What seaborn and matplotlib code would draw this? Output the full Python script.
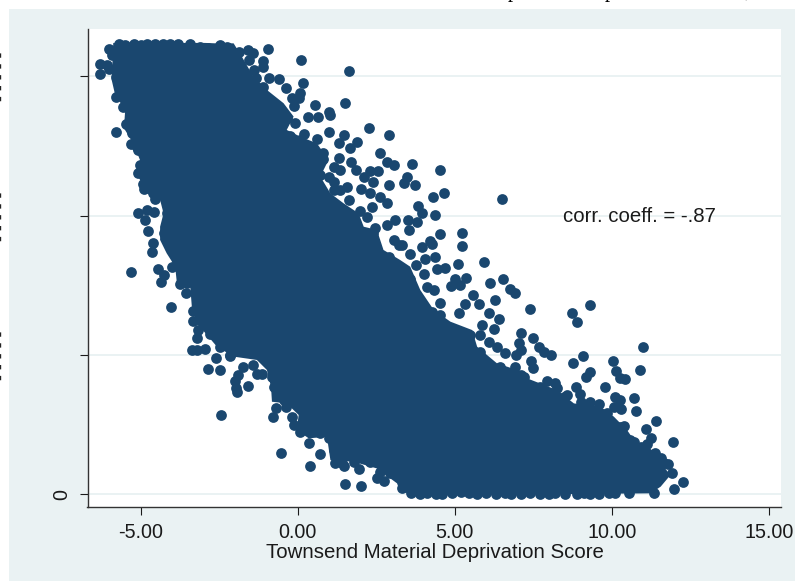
import matplotlib
matplotlib.use("Agg")
import matplotlib.pyplot as plt
import pandas as pd
import seaborn as sns
from matplotlib.patches import Rectangle

# outline of the solid mass where the single points can't be told apart
core_x = [-5.87, -2.95, -2.6, -2.04, -1.78, -1.41, -0.98, -0.45, -0.13, -0.35, 0.08, 0.61, 0.98, 0.72, 1.04, 1.46, 1.94,
          2.10, 2.52, 2.73, 3.26, 3.58, 3.9, 4.33, 4.86, 5.55, 5.71, 6.34, 6.98, 7.30, 8.25, 8.79, 9.64, 10.06, 10.48,
          10.70, 11.23, 11.65, 11.86, 11.55, 11.23,
          3.9, 3.26, 3.16, 2.52, 1.78, 1.04, 0.93, 0.35, -0.03, 0.03, -0.35, -0.82, -0.85, -0.98, -1.30, -2.04, -2.57,
          -2.84, -3.21, -3.37, -3.42, -3.85, -3.90, -4.17, -4.38, -4.38, -4.27, -4.38, -4.80, -5.10, -5.02, -5.23,
          -5.53, -5.49, -5.81, -5.92]
core_y = [32.4, 32.4, 32.37, 32.37, 31.42, 29.98, 29.02, 28.07, 27.11, 26.15, 25.67, 25.19, 24.0, 22.8, 21.6, 20.88, 20.16,
          19.2, 18.97, 17.53, 16.81, 16.33, 14.66, 13.22, 12.38, 11.78, 10.58, 9.39, 8.91, 8.31, 7.47, 6.51, 6.27, 5.56, 4.6,
          3.88, 3.16, 1.96, 1.36, 0.53, 0.05,
          -0.1, 0.17, 0.77, 1.84, 2.32, 2.44, 4.12, 4.0, 4.6, 5.68, 6.51, 6.63, 7.71, 8.91, 9.63, 9.87, 10.58,
          11.3, 12.26, 13.46, 14.89, 15.25, 16.33, 17.29, 18.25, 19.2, 20.16, 21.12, 21.6, 22.92, 23.99, 25.19,
          26.27, 27.59, 28.66, 29.74]

# top row and upper left corner
top_x = [-5.69, -5.5, -5.22, -5.0, -4.8, -4.55, -4.3, -4.05, -3.8, -3.44, -3.10, -2.85, -2.47, -2.26, -5.9, -6.02,
         -6.29, -6.08, -6.29, -6.02, -5.78, -5.78, -5.57, -5.31, -5.46, -5.78, -5.28, -5.30, -5.07, -5.02, -5.07, -4.91, -4.88]
top_y = [32.3, 32.28, 32.3, 32.28, 32.3, 32.3, 32.3, 32.3, 32.3, 32.3, 32.14, 32.05, 32.26, 32.14, 31.5, 31.94,
         30.9, 30.8, 30.17, 30.5, 29.93, 28.54, 27.83, 27.1, 26.58, 25.98, 25.9, 25.12, 24.7, 23.63, 23.04, 22.3, 21.9]

# left and lower side of the cloud
left_x = [-4.53, -5.09, -4.80, -4.57, -4.86, -4.78, -4.62, -4.63, -5.31, -4.45, -4.27, -4.35, -4.01, -3.74,
          -4.04, -3.55, -3.32, -3.34, -3.16, -3.21, -3.37, -3.21, -2.95, -2.79, -2.60, -2.85, -2.47, -2.17, -1.89,
          -1.99, -1.96, -1.94, -1.59, -1.28, -1.14, -2.44, -0.80, -0.68, -0.37, -0.18, 0.08, 0.35, -0.54, 0.72, 0.38,
          1.19, 1.46, 1.51, 2.01, 1.94, 2.52, 2.73, 3.32]
left_y = [21.19, 20.16, 20.4, 20.28, 19.68, 18.92, 18.0, 17.36, 15.97, 16.14, 15.73, 15.2, 16.33, 15.09,
          13.46, 14.42, 13.17, 12.45, 11.78, 11.23, 10.34, 10.34, 10.44, 11.47, 9.79, 9.0, 8.88, 9.91, 8.55,
          8.14, 7.59, 7.3, 7.78, 8.62, 8.62, 5.68, 5.56, 6.15, 6.27, 5.51, 4.48, 3.64, 2.97, 2.87, 2.01,
          2.25, 2.01, 0.72, 0.6, 1.77, 1.13, 0.96, 0.41]

# bottom row against zero
bottom_x = [3.6, 3.9, 4.1, 4.4, 4.6, 4.9, 5.2, 5.45, 5.7, 6.0, 6.3, 6.6, 6.8, 7.1, 7.4, 7.7, 8.0, 8.2, 8.5, 8.9, 9.1,
            9.3, 9.6, 9.9, 10.1, 10.54, 11.33, 11.17, 11.44]
bottom_y = [0.1, 0.0, 0.1, 0.0, 0.0, 0.1, 0.15, 0.05, 0.0, 0.05, 0.0, 0.05, 0.0, 0.0, 0.05, 0.0, 0.0, 0.05, 0.0, 0.0, 0.05,
            0.0, 0.0, 0.05, 0.1, 0.05, 0.05, 0.53, 1.25]

# scattered points above the cloud, left half
upper_x = [-0.96, 0.10, 1.62, 1.50, 0.16, 0.54, -0.38, -0.58, -0.90, -1.57, -1.41, -1.55, -1.09, -1.09, -1.38, -1.32,
           -1.78, -1.87, 2.28, 2.91, 2.61, 2.84, 3.05, 2.57, 2.31, 2.41, 2.92, 2.01, 2.31, 2.61, 2.84, 2.36, 2.2, 3.11,
           1.88, 1.67, 1.48, 1.30, 0.98, 1.04, 0.98, 0.66, 0.34, -0.08, -0.37, -0.13, 0.03, 0.08, -0.19, -0.82, -1.09,
           -1.09, -0.24, 0.19, 0.61, 0.80, 0.82, 1.30, 1.35, 1.69, 1.86, 2.10, 1.14, 1.35, 1.57, 0.98, 1.62, 1.99, 2.47,
           2.84, 1.99, 3.21, 3.11, 2.2, 2.89, 0.72]
upper_y = [31.94, 31.2, 30.36, 28.06, 29.53, 27.92, 29.17, 29.79, 29.91, 31.9, 31.7, 31.18, 31.08, 30.7, 30.46, 29.86,
           29.86, 31.78, 26.27, 25.77, 24.52, 23.83, 23.63, 23.23, 23.23, 22.44, 22.2, 21.91, 21.6, 21.36, 20.88, 20.64, 19.92, 19.68,
           25.31, 24.88, 25.79, 25.19, 26.03, 27.23, 27.47, 27.06, 27.11, 26.68, 27.11, 27.87, 28.42, 28.78, 28.42, 28.07, 28.18,
           29.26, 25.72, 25.86, 25.48, 24.47, 24.04, 24.11, 23.28, 23.87, 23.28, 22.8, 22.44, 21.84, 22.08, 20.83, 21.12, 20.35, 19.09,
           19.32, 18.85, 17.89, 15.97, 18.0, 17.05, 22.92]

# scattered points above the cloud, middle
mid_x = [3.63, 4.53, 3.48, 3.74, 3.37, 4.29, 4.67, 6.49, 3.82, 3.95, 4.36, 3.8, 3.5, 3.53, 4.53, 5.23, 5.23, 4.2, 4.28,
         3.95, 3.32, 3.58, 4.36, 4.06, 5.92, 5.10, 3.77, 4.68, 4.43, 4.01, 3.56, 6.53, 5.34, 5.02, 6.13, 5.18, 4.88,
         4.11, 6.77, 4.33, 3.48]
mid_y = [23.71, 23.28, 22.8, 22.17, 22.32, 21.31, 21.6, 21.17, 20.69, 20.16, 20.02, 19.56, 19.68, 18.97, 18.7, 18.73, 17.84, 18.2, 17.94,
         17.72, 17.89, 17.22, 17.0, 16.88, 16.69, 16.5, 16.43, 16.26, 16.16, 15.8, 15.42, 15.42, 15.49, 15.42, 15.13, 15.01, 14.97,
         14.9, 14.7, 14.66, 14.9]

# scattered points on the right tail
right_x = [9.30, 8.72, 8.88, 7.38, 11.0, 10.03, 10.14, 10.27, 10.43, 10.89, 9.77, 10.70, 10.76, 11.40, 11.07, 11.95,
           11.25, 12.26, 11.97, 11.36, 11.55, 11.79, 11.9, 9.08, 8.76, 9.29, 9.16, 8.86, 8.97, 8.57, 8.06, 7.67, 7.83,
           7.49, 7.09, 7.03, 6.96, 7.09, 7.41, 7.48, 6.4, 6.24, 5.87, 5.81, 6.10, 5.78, 5.33, 5.12, 5.58, 6.91, 6.29,
           4.54, 4.27, 6.59, 6.34, 6.08, 6.93, 6.45, 7.19, 7.94, 8.2, 8.25, 9.29, 9.6, 10.11, 10.27, 10.29, 10.06, 10.38,
           10.33, 10.70, 10.91, 11.12, 11.17]
right_y = [13.58, 13.03, 12.38, 13.27, 10.58, 9.58, 8.86, 8.31, 8.24, 8.91, 7.69, 6.87, 5.99, 5.22, 4.67, 3.71,
           4.0, 0.89, 0.38, 2.92, 2.61, 2.16, 1.48, 9.91, 9.39, 8.79, 8.38, 7.71, 7.16, 7.11, 10.01, 10.58, 10.23,
           11.21, 11.54, 10.82, 9.99, 10.34, 9.58, 9.03, 12.55, 11.85, 12.14, 11.42, 13.03, 13.63, 13.65, 12.98, 14.3, 14.46, 13.94,
           13.7, 13.1, 10.1, 10.54, 10.94, 9.1, 9.03, 8.43, 8.14, 8.0, 7.59, 6.63, 6.47, 6.99, 6.75, 6.11, 6.27, 4.91,
           4.24, 3.76, 3.4, 3.59, 2.08]

# points sitting on the edge of the solid mass
edge_x = [0.98, 1.14, 1.41, 1.78, 2.31, 2.63, 2.95, 0.72, -0.13, -0.45, -0.77, -0.82, -1.41, -1.73, -2.15, -2.47, -2.73,
          -3.1, -3.21, -4.86, -4.91, -5.23, -5.12, -4.59, -4.17, -4.27, -4.06, -3.85, -3.53, -0.35, 0.08, 1.14, 0.98,
          1.14, 1.57, 2.41, 3.05, 4.54, 5.49, 5.81, 6.45, 7.09, 7.72, 8.47, 9.0, 9.85, 10.27, 10.59, 11.12, 11.65]
edge_y = [4.0, 3.16, 2.2, 2.32, 2.32, 1.6, 1.48, 4.36, 4.96, 6.75, 7.71, 8.43, 9.27, 9.15, 9.99, 10.58, 11.54,
          12.5, 13.94, 23.99, 23.04, 26.39, 24.95, 21.6, 20.16, 18.73, 17.77, 16.81, 15.13, 26.99, 25.43, 23.52, 22.8,
          21.84, 20.16, 18.73, 18.25, 12.86, 11.42, 10.23, 9.15, 8.55, 7.71, 6.99, 6.63, 5.79, 4.84, 3.88, 2.92, 2.2]

x_ticks = [-5, 0, 5, 10, 15]
x_tick_labels = ["-5.00", "0.00", "5.00", "10.00", "15.00"]
y_ticks = [0, 10, 20, 30]
y_tick_labels = ["0", "", "", ""]

navy = "#1a476f"
panel = "#eaf2f3"
ink = "#1a1a1a"

data = pd.DataFrame({
    "score": top_x + left_x + bottom_x + upper_x + mid_x + right_x + edge_x,
    "value": top_y + left_y + bottom_y + upper_y + mid_y + right_y + edge_y,
})

sns.set_style("white")
plt.rcParams["font.family"] = ["Liberation Sans", "DejaVu Sans"]

W, H = 795, 581
fig = plt.figure(figsize=(W / 100, H / 100), dpi=100, facecolor="white")
fig.add_artist(Rectangle((9 / W, 0), 1 - 9 / W, 1 - 9 / H, transform=fig.transFigure, color=panel, lw=0, zorder=-5))
ax = fig.add_axes([87.5 / W, 1 - 507 / H, (781 - 87.5) / W, (507 - 29) / H], facecolor="white")

for y in y_ticks:
    ax.axhline(y, color=panel, lw=1.4, zorder=1)

ax.fill(core_x, core_y, color=navy, lw=0, zorder=2)
sns.scatterplot(data=data, x="score", y="value", color=navy, s=60, linewidth=0, ax=ax, zorder=3)

ax.set_xlim(-6.69, 15.38)
ax.set_ylim(-0.93, 33.4)
ax.set_xticks(x_ticks, x_tick_labels)
ax.set_yticks(y_ticks, y_tick_labels)
ax.tick_params(axis="both", direction="out", length=5.5, width=0.8, color=ink, labelcolor=ink, labelsize=14.2, pad=6,
               bottom=True, left=True)
ax.tick_params(axis="y", labelrotation=90, pad=6)
for lab in ax.get_yticklabels():
    lab.set_va("center")
ax.set_xlabel("Townsend Material Deprivation Score", fontsize=14.7, color=ink, labelpad=0)
ax.xaxis.set_label_coords((435 - 87.5) / (781 - 87.5), -36 / 478)
ax.set_ylabel("")
sns.despine(ax=ax)
for side in ("left", "bottom"):
    ax.spines[side].set_color("#333333")
    ax.spines[side].set_linewidth(1.0)

ax.text(8.45, 19.9, "corr. coeff. = -.87", fontsize=14.7, color=ink, ha="left", va="center", zorder=4)

# remains of the cropped y tick labels and title at the edges of the page
for yc in (76, 216, 355):
    fig.text(2.5 / W, 1 - yc / H, "- - - - -", rotation=90, fontsize=13, color="#222222", ha="center", va="center")
for xc, s in ((513, "p"), (610, "p"), (747, ",")):
    fig.text(xc / W, 1 + 3 / H, s, family="Liberation Serif", fontsize=15, color="black", ha="center", va="baseline")

plt.savefig("out.png", dpi=100)
